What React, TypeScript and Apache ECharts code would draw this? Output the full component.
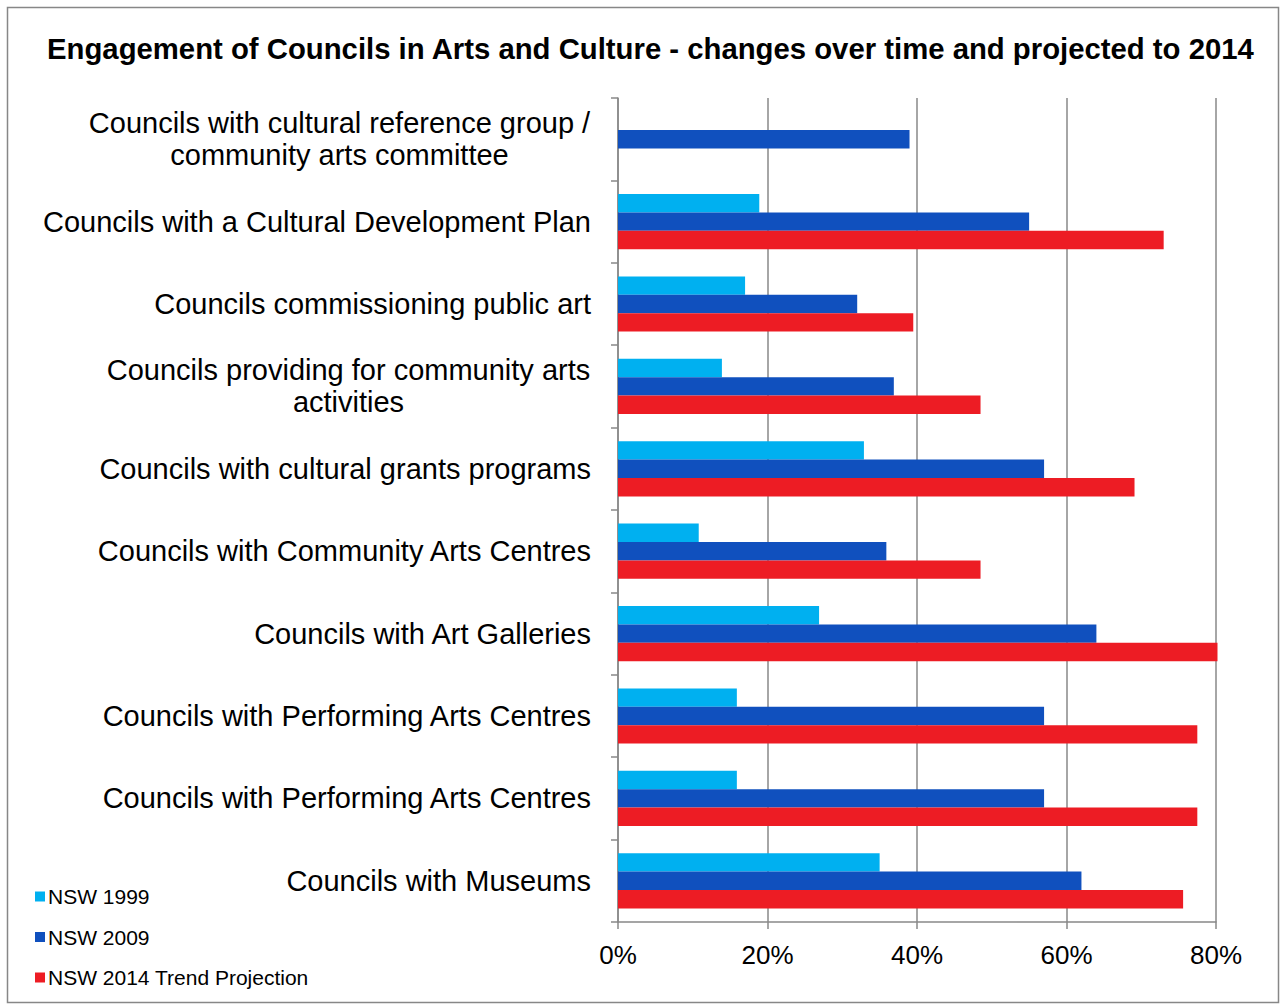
import React, { useEffect, useRef } from "react";
import * as echarts from "echarts";

const titleText =
  "Engagement of Councils in Arts and Culture - changes over time and projected to 2014";

const categories = [
  "Councils with cultural reference group /\ncommunity arts committee",
  "Councils with a Cultural Development Plan",
  "Councils commissioning public art",
  "Councils providing for community arts\nactivities",
  "Councils with cultural grants programs",
  "Councils with Community Arts Centres",
  "Councils with Art Galleries",
  "Councils with Performing Arts Centres",
  "Councils with Performing Arts Centres ",
  "Councils with Museums",
];

const seriesNames = ["NSW 1999", "NSW 2009", "NSW 2014 Trend Projection"];

const nsw1999 = [null, 18.9, 17, 13.9, 32.9, 10.8, 26.9, 15.9, 15.9, 35];
const nsw2009 = [39, 55, 32, 36.9, 57, 35.9, 64, 57, 57, 62];
const nsw2014 = [null, 73, 39.5, 48.5, 69.1, 48.5, 80.2, 77.5, 77.5, 75.6];

const xTicks = [0, 20, 40, 60, 80];

const colors = ["#00B0F0", "#1050BE", "#ED1C24"];

const FONT = "Liberation Sans, Arial, sans-serif";
const CAT_SIZE = 29;

function measure(text: string): number {
  const c = document.createElement("canvas").getContext("2d");
  if (!c) return text.length * CAT_SIZE * 0.5;
  c.font = `${CAT_SIZE}px "Liberation Sans", Arial, sans-serif`;
  return c.measureText(text).width;
}

export default function App() {
  const ref = useRef<HTMLDivElement>(null);

  useEffect(() => {
    if (!ref.current) return;
    const chart = echarts.init(ref.current, undefined, { renderer: "svg" });
    const dataSets = [nsw1999, nsw2009, nsw2014];

    const rich: Record<string, any> = {};
    const labelMap: Record<string, string> = {};
    categories.forEach((cat, idx) => {
      const lines = cat.trim().split("\n");
      if (lines.length > 1) {
        const w = Math.ceil(Math.max(...lines.map(measure))) + 1;
        const key = "m" + idx;
        rich[key] = {
          width: w,
          align: "center",
          fontFamily: FONT,
          fontSize: CAT_SIZE,
          lineHeight: 32,
          color: "#000000",
        };
        labelMap[cat] = lines.map((l) => `{${key}|${l}}`).join("\n");
      } else {
        labelMap[cat] = cat.trim();
      }
    });

    chart.setOption({
      animation: false,
      backgroundColor: "#ffffff",
      textStyle: { fontFamily: FONT },
      title: {
        text: titleText,
        left: 47,
        top: 33.5,
        padding: 0,
        textStyle: {
          fontFamily: FONT,
          fontSize: 29.3,
          fontWeight: "bold",
          color: "#000000",
        },
      },
      legend: {
        orient: "vertical",
        left: 35,
        top: 886,
        padding: 0,
        itemWidth: 10,
        itemHeight: 10,
        itemGap: 19.5,
        icon: "rect",
        data: seriesNames,
        textStyle: {
          fontFamily: FONT,
          fontSize: 21,
          lineHeight: 21,
          color: "#000000",
          padding: [0, 0, 0, -2],
        },
      },
      grid: {
        left: 618,
        right: 65,
        top: 98,
        bottom: 83,
        containLabel: false,
        outerBoundsMode: "none",
      },
      xAxis: {
        type: "value",
        min: xTicks[0],
        max: xTicks[xTicks.length - 1],
        interval: 20,
        axisLine: { show: true, lineStyle: { color: "#888888", width: 1.5 } },
        axisTick: { show: true, length: 7, lineStyle: { color: "#888888", width: 1.5 } },
        splitLine: { show: true, lineStyle: { color: "#888888", width: 1.5 } },
        axisLabel: {
          formatter: "{value}%",
          fontFamily: FONT,
          fontSize: 26,
          color: "#000000",
          margin: 20,
        },
      },
      yAxis: {
        type: "category",
        inverse: true,
        data: categories,
        axisLine: { show: true, lineStyle: { color: "#888888", width: 1.5 } },
        axisTick: { show: true, length: 7, lineStyle: { color: "#888888", width: 1.5 } },
        axisLabel: {
          fontFamily: FONT,
          fontSize: CAT_SIZE,
          lineHeight: 32,
          color: "#000000",
          margin: 27,
          align: "right",
          rich,
          formatter: (v: string) => labelMap[v] ?? v,
        },
      },
      series: seriesNames.map((name, i) => ({
        name,
        type: "bar",
        data: dataSets[i],
        barGap: "0%",
        barCategoryGap: "33%",
        clip: false,
        itemStyle: { color: colors[i] },
      })),
      graphic: [
        {
          type: "rect",
          shape: { x: 7.5, y: 7.5, width: 1271, height: 995 },
          style: { fill: "none", stroke: "#878787", lineWidth: 1.5 },
          silent: true,
        },
      ],
    });
    return () => chart.dispose();
  }, []);

  return (
    <div
      ref={ref}
      style={{ position: "absolute", left: 0, top: 0, width: 1281, height: 1005 }}
    />
  );
}
